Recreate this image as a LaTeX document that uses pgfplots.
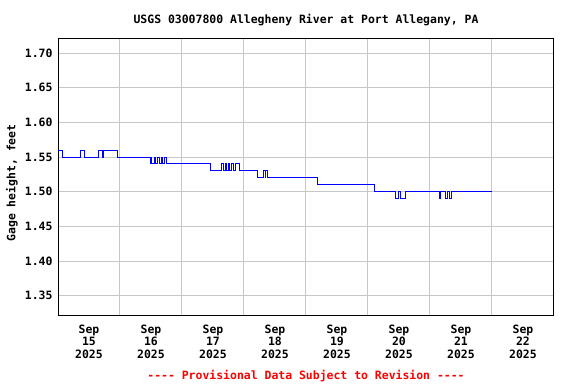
\documentclass[border=0pt]{standalone}
\usepackage{fontspec}
\setmonofont{DejaVu Sans Mono}
\usepackage{pgfplots}
\pgfplotsset{compat=1.18}
\newcommand{\lf}{\ttfamily\bfseries\fontsize{11.5}{13}\selectfont}
\begin{document}
\begin{tikzpicture}
\path[use as bounding box] (0,0) rectangle (576bp,384bp);
\begin{axis}[at={(58bp,68bp)}, anchor=south west, scale only axis,
  width=496bp, height=277bp,
  xmin=0, xmax=8, ymin=1.3207, ymax=1.7202,
  xtick={0.5,1.5,2.5,3.5,4.5,5.5,6.5,7.5},
  xticklabels={{Sep\\15\\2025},{Sep\\16\\2025},{Sep\\17\\2025},{Sep\\18\\2025},{Sep\\19\\2025},{Sep\\20\\2025},{Sep\\21\\2025},{Sep\\22\\2025}},
  minor xtick={1,2,3,4,5,6,7},
  xminorgrids, ymajorgrids,
  ytick={1.35,1.40,1.45,1.50,1.55,1.60,1.65,1.70},
  yticklabel style={/pgf/number format/fixed, /pgf/number format/fixed zerofill, /pgf/number format/precision=2, xshift=-2bp},
  /pgf/number format/assume math mode=true,
  major tick length=0, minor tick length=0,
  grid style={draw=black!22, line width=1bp},
  minor grid style={draw=black!22, line width=1bp},
  axis line style={black, line width=1bp},
  tick label style={font=\lf},
  xticklabel style={align=center, yshift=-5bp},
]
\addplot[const plot, blue, line width=1bp] coordinates {
(0,1.56) (0.07,1.55) (0.37,1.56) (0.42,1.55) (0.66,1.56) (0.72,1.55) (0.74,1.56)
(0.955,1.55) (1.484,1.54) (1.50,1.55) (1.516,1.54) (1.56,1.55) (1.58,1.54)
(1.608,1.55) (1.634,1.54) (1.666,1.55) (1.689,1.54) (1.71,1.55) (1.75,1.54)
(2.463,1.53) (2.645,1.54) (2.666,1.53) (2.694,1.54) (2.721,1.53) (2.747,1.54)
(2.774,1.53) (2.806,1.54) (2.827,1.53) (2.860,1.54) (2.93,1.53)
(3.215,1.52) (3.311,1.53) (3.339,1.52) (3.35,1.53) (3.382,1.52)
(4.185,1.51) (5.097,1.50) (5.44,1.49) (5.50,1.50) (5.53,1.49) (5.60,1.50)
(6.15,1.49) (6.173,1.50) (6.245,1.49) (6.28,1.50) (6.32,1.49) (6.35,1.50)
(6.995,1.50)
};
\end{axis}
\node[font=\lf] at (306bp,364bp) {USGS 03007800 Allegheny River at Port Allegany, PA};
\node[font=\lf, rotate=90] at (12bp,201bp) {Gage height, feet};
\node[font=\lf, text=red] at (306bp,7.5bp) {---- Provisional Data Subject to Revision ----};
\end{tikzpicture}
\end{document}
